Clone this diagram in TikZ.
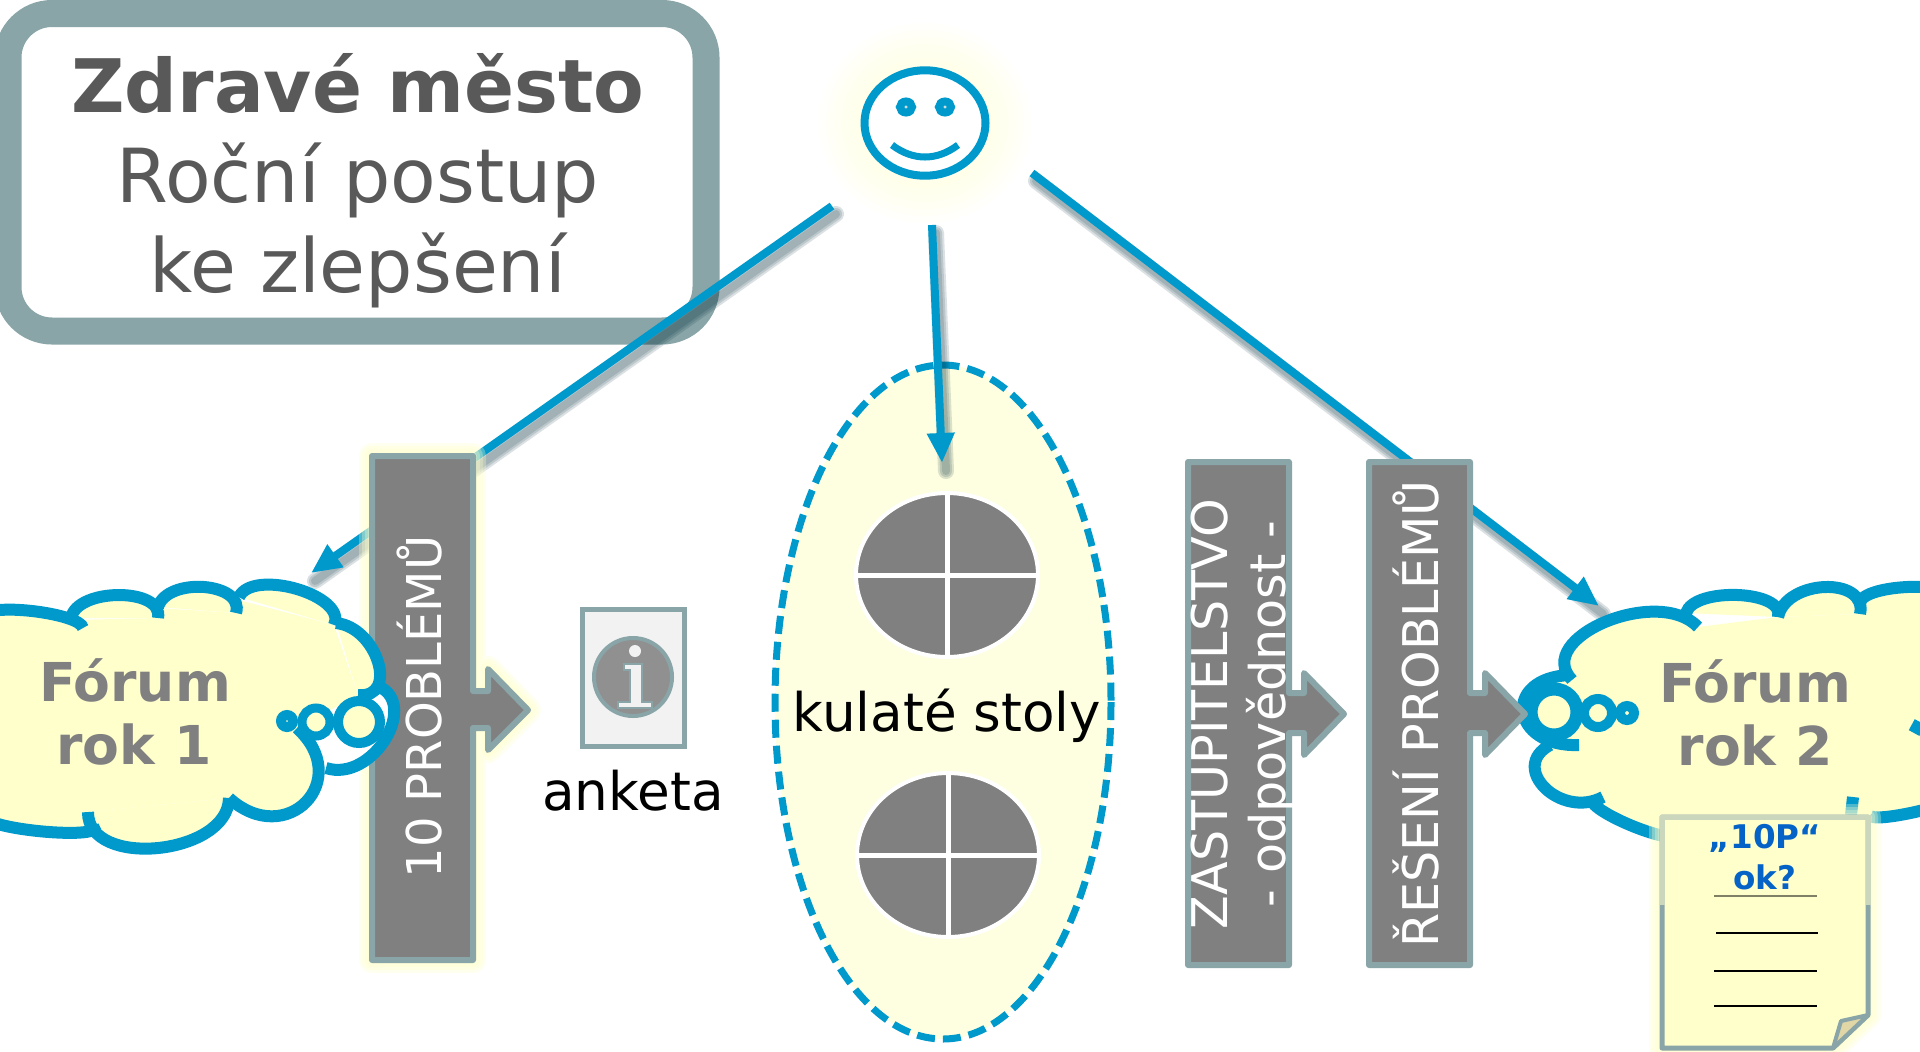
\documentclass[tikz,border=0pt]{standalone}
\usepackage{fontspec}
\setmainfont{DejaVu Sans}
\usetikzlibrary{arrows.meta,calc}
\definecolor{cblue}{HTML}{0099CC}
\definecolor{cyel}{HTML}{FFFFCC}
\definecolor{cpale}{HTML}{FEFFE0}
\definecolor{cgray}{HTML}{808080}
\definecolor{cedge}{HTML}{89A5A8}
\definecolor{ctitle}{HTML}{595959}
\definecolor{cnote}{HTML}{0563C8}
\tikzset{
  px/.style={line width=#1*0.5pt},
  cloudline/.style={draw=cblue,px=12,line cap=butt},
  conn/.style={draw=cblue,px=8},
  connshadow/.style={draw=black!70!cblue,px=#1,opacity=.14,line cap=round},
  banner/.style={fill=cgray,draw=cedge,px=6,line join=round},
  bantext/.style={text=white,rotate=90,font=\fontsize{24.6}{24.6}\selectfont,inner sep=0pt},
  forumtext/.style={text=cgray,font=\bfseries\fontsize{26.8}{26.8}\selectfont,inner sep=0pt},
  plaintext/.style={text=black,font=\fontsize{26.6}{26.6}\selectfont,inner sep=0pt},
  titletext/.style={text=ctitle,font=\fontsize{37.3}{37.3}\selectfont,inner sep=0pt},
  notetext/.style={text=cnote,font=\bfseries\fontsize{16.3}{16.3}\selectfont,inner sep=0pt},
  table/.style={fill=cgray,draw=white,px=4},
  tablecross/.style={draw=white,px=5},
  noteline/.style={draw=black,px=1.6},
  tipped/.style={-{Triangle[length=15pt,width=13pt]}}
}
% one cloud bump from start (#1,#2) through middle point (#3,#4) to end (#5,#6)
\newcommand\bumppath[6]{(#1,#2) .. controls ({#1+1.3333*(#3-(#1+#5)/2)},{#2+1.3333*(#4-(#2+#6)/2)}) and ({#5+1.3333*(#3-(#1+#5)/2)},{#6+1.3333*(#4-(#2+#6)/2)}) .. (#5,#6)}
\newcommand\blob[6]{\fill[cyel] \bumppath{#1}{#2}{#3}{#4}{#5}{#6} -- cycle;}
\newcommand\arcl[6]{\draw[cloudline] \bumppath{#1}{#2}{#3}{#4}{#5}{#6};}
\newcommand\cloudA[1]{%
  #1{-15}{617}{32}{611}{83}{628}
  #1{71}{618}{119}{595}{158}{618}
  #1{158}{607}{204}{587}{236}{613}
  #1{239}{597}{297}{589}{334}{625}
  #1{336}{623}{378}{662}{358}{695}
  #1{297}{728}{306}{802}{229}{798}
  #1{229}{798}{158}{848}{88}{812}
  #1{93}{826}{49}{832}{-15}{818}}
\newcommand\cloudB[1]{%
  #1{1570}{675}{1523}{712}{1579}{745}
  #1{1572}{680}{1605}{622}{1698}{627}
  #1{1686}{613}{1738}{595}{1778}{617}
  #1{1778}{617}{1825}{587}{1860}{614}
  #1{1860}{605}{1907}{587}{1960}{600}
  #1{1550}{745}{1545}{788}{1603}{797}
  #1{1592}{798}{1630}{825}{1680}{835}
  #1{1870}{815}{1915}{812}{1960}{795}}
\newcommand\glowpath[1]{%
  \foreach \w in {26,20,14,8}{\draw[cyel,line width=\w*0.5pt,opacity=.30,line join=round] #1;}}
\begin{document}
\begin{tikzpicture}[x=0.5pt,y=-0.5pt]
\path[clip] (0,0) rectangle (1920,1051);
\fill[white] (0,0) rectangle (1920,1051);

% title box
\draw[draw=cedge,fill=white,px=27,rounded corners=22pt] (8,13.5) rectangle (706,331);
\node[titletext,font=\bfseries\fontsize{36.9}{36.9}\selectfont] (t1) at (358,84) {Zdravé město};
\node[titletext] (t2) at (358,180) {Roční postup};
\node[titletext] (t3) at (358,270) {ke zlepšení};

% smiley
\foreach \r in {1.0,.93,.86,.79,.72,.65}{\fill[cyel,opacity=.07] (925,123) ellipse ({106*\r} and {100*\r});}
\draw[cblue,fill=white,px=8] (925,123) ellipse (60.5 and 52.7);
\foreach \ex in {906,945}{\draw[cblue,fill=cedge!40,px=8] (\ex,107) ellipse (6 and 5.5);}
\draw[cblue,px=7] (892,145) .. controls (913,161) and (937,161) .. (958,145);

% connector ends
\coordinate (s1) at (832,206);
\coordinate (e1) at (311,573);
\coordinate (s2) at (932,225);
\coordinate (e2) at (942,463);
\coordinate (s3) at (1032,173);
\coordinate (e3) at (1599,606);

% ellipse of round tables
\draw[draw=cblue,fill=cpale,px=7,dash pattern=on 9pt off 4pt] (943,702) ellipse (168 and 337);
\draw[table] (947,575) ellipse (91 and 82);
\draw[tablecross] (857,575) -- (1037,575);
\draw[tablecross] (947,494) -- (947,656);
\draw[table] (948,855) ellipse (91 and 82);
\draw[tablecross] (858,855) -- (1038,855);
\draw[tablecross] (948,774) -- (948,936);
\node[plaintext] (kulate) at (947,716) {kulaté stoly};

% connectors with shadows
\foreach \w in {16,12,8}{
  \draw[connshadow=\w,transform canvas={xshift=2pt,yshift=-4pt}] (s1) -- (e1);
  \draw[connshadow=\w,transform canvas={xshift=2pt,yshift=-4pt}] (s2) -- (e2);
  \draw[connshadow=\w,transform canvas={xshift=2pt,yshift=-4pt}] (s3) -- (e3);
}
\draw[conn,tipped] (s1) -- (e1);
\draw[conn,tipped] (s2) -- (e2);
\draw[conn,tipped] (s3) -- (e3);

% banner 1
\def\pathA{(372,456) -- (473,456) -- (473,691) -- (488,691) -- (488,669) -- (528,710) -- (488,750) -- (488,728) -- (473,728) -- (473,960) -- (372,960) -- cycle}
\glowpath{\pathA}
\draw[banner] \pathA;
\node[bantext,font=\fontsize{24}{24}\selectfont] (b1) at (420,707) {10 PROBLÉMŮ};

% cloud 1: white crescent lobe, then the bumps
\draw[cloudline,fill=white] \bumppath{375}{685}{386}{738}{326}{768};
\cloudA{\blob}
\fill[cyel] (-15,617) -- (71,620) -- (158,618) -- (158,608) -- (236,613) -- (239,600) -- (334,625) -- (358,695) -- (297,728) -- (229,798) -- (88,812) -- (93,826) -- (-15,818) -- cycle;
\cloudA{\arcl}
\draw[cblue,fill=cyel,px=10] (359,722) ellipse (21 and 21);
\draw[cblue,fill=cyel,px=9] (316,722) ellipse (14 and 14);
\draw[cblue,fill=cyel,px=10] (287,721) ellipse (6 and 6);
\node[forumtext] (f1a) at (135,680) {Fórum};
\node[forumtext] (f1b) at (134,744) {rok 1};

% anketa
\draw[fill=black!5,draw=cedge,px=5] (582,609) rectangle (684,746);
\draw[fill=cgray,fill opacity=.85,draw=cedge,px=4] (633,677) ellipse (39 and 39);
\fill[black!5] (635,651) circle (6);
\draw[cedge,fill=black!5,px=2.5] (624,664) -- (642,664) -- (642,702) -- (652,702) -- (652,708) -- (618,708) -- (618,702) -- (630,702) -- (630,670) -- (624,670) -- cycle;
\node[plaintext] (anketa) at (633,791) {anketa};

% banner 2
\draw[banner] (1188,462) -- (1289,462) -- (1289,693) -- (1304,693) -- (1304,673) -- (1344,714) -- (1304,755) -- (1304,733) -- (1289,733) -- (1289,965) -- (1188,965) -- cycle;
\node[bantext] (b2a) at (1210,714) {ZASTUPITELSTVO};
\node[bantext] (b2b) at (1271,714) {- odpovědnost -};

% cloud 2
\cloudB{\blob}
\fill[cyel] (1572,680) -- (1686,620) -- (1698,627) -- (1778,617) -- (1860,614) -- (1860,605) -- (1925,600) -- (1925,808) -- (1870,815) -- (1680,835) -- (1592,798) -- (1550,745) -- cycle;
\cloudB{\arcl}
\draw[cloudline] (1853,797) -- (1851,815);
\draw[cloudline] (1920,722) -- (1914,733);
\draw[cblue,fill=cyel,px=13] (1554,712) ellipse (23 and 23);
\draw[cblue,fill=cyel,px=10] (1598,713) ellipse (14 and 14);
\draw[cblue,fill=cyel,px=10] (1627,713) ellipse (7 and 7);
\node[forumtext] (f2a) at (1755,681) {Fórum};
\node[forumtext] (f2b) at (1755,745) {rok 2};

% banner 3
\draw[banner] (1369,462) -- (1470,462) -- (1470,693) -- (1485,693) -- (1485,673) -- (1525,714) -- (1485,755) -- (1485,733) -- (1470,733) -- (1470,965) -- (1369,965) -- cycle;
\node[bantext] (b3) at (1416,714) {ŘEŠENÍ PROBLÉMŮ};

% note
\def\pathN{(1662,817) -- (1868,817) -- (1868,1015) -- (1833,1048) -- (1662,1048) -- cycle}
\glowpath{\pathN}
\draw[fill=cyel,draw=cedge,px=5,line join=round] \pathN;
\draw[draw=cedge!45!cyel,px=5] (1662,905) -- (1662,817) -- (1868,817) -- (1868,905);
\draw[fill=black!10!cyel!85!brown,draw=cedge,px=4,line join=round] (1868,1015) -- (1841,1021) -- (1833,1048) -- cycle;
\node[notetext] (n1) at (1765,838) {„10P“};
\node[notetext] (n2) at (1765,877) {ok?};
\draw[noteline,draw=black!50!cyel] (1714,896) -- (1817,896);
\draw[noteline] (1716,933) -- (1818,933);
\draw[noteline] (1714,971) -- (1817,971);
\draw[noteline] (1714,1006) -- (1817,1006);
\end{tikzpicture}
\end{document}
